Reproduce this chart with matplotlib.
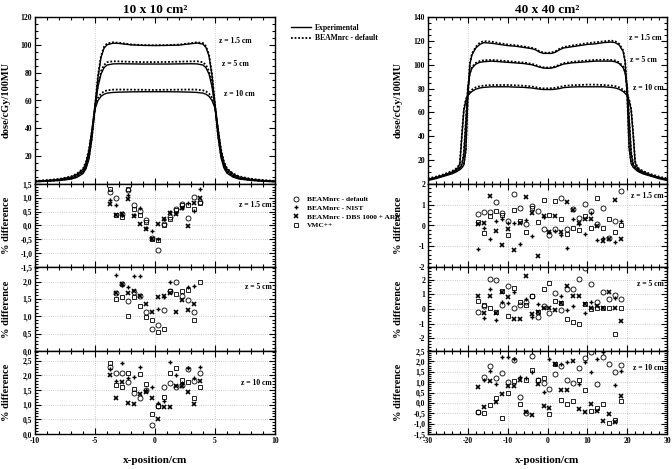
import numpy as np
import matplotlib
matplotlib.use("Agg")
import matplotlib.pyplot as plt
from matplotlib.lines import Line2D
from matplotlib.ticker import MultipleLocator, AutoMinorLocator, FuncFormatter

plt.rcParams['font.family'] = ['Liberation Serif', 'DejaVu Serif']
plt.rcParams['font.weight'] = 'bold'

nan = np.nan

# ---- dose profiles, 10 x 10 cm2 ----
x_10 = [-10, -9, -8, -7, -6.5, -6, -5.75, -5.5, -5.25, -5, -4.75, -4.5, -4.25, -4, -3.5, -3,
        -2, -1, 0, 1, 2, 3, 3.5, 4, 4.25, 4.5, 4.75, 5, 5.25, 5.5, 5.75, 6, 6.5, 7, 8, 9, 10]
exp_10_z15 = [1.6, 2.0, 2.5, 3.5, 4.8, 7.5, 11, 18, 33, 55, 77, 91, 97.5, 100, 101.2, 101,
              100, 99.6, 99.5, 99.6, 99.8, 100.8, 101.3, 100.5, 98, 92, 78, 56, 34, 19, 11.5, 7.8, 5, 3.6, 2.6, 2.0, 1.6]
mc_10_z15 = [1.8, 2.2, 2.7, 3.8, 5.2, 8.0, 12, 19, 34, 56, 78, 92, 98.5, 101, 101.8, 101.5,
             100.3, 99.8, 99.7, 99.8, 100.2, 101.2, 101.8, 101.3, 99, 93, 79, 57, 35, 20, 12, 8.3, 5.4, 3.9, 2.8, 2.2, 1.8]
exp_10_z5 = [1.8, 2.2, 2.9, 4.2, 5.8, 9, 13, 22, 37, 55, 70, 79, 83.5, 85.5, 86.3, 86.4,
             86.3, 86.2, 86.2, 86.2, 86.3, 86.4, 86.3, 85.5, 83.5, 79, 70, 56, 38, 22, 13, 9.2, 5.9, 4.3, 2.9, 2.2, 1.8]
mc_10_z5 = [2.0, 2.5, 3.2, 4.5, 6.2, 9.5, 14, 23, 38, 56, 71.5, 81, 85.5, 87.5, 88.2, 88.1,
            87.8, 87.6, 87.6, 87.7, 87.9, 88.1, 88.2, 87.5, 85.5, 81, 72, 57, 39, 23, 14, 9.7, 6.3, 4.6, 3.1, 2.5, 2.0]
exp_10_z10 = [2.0, 2.5, 3.3, 5, 7, 10.5, 15, 24, 38, 54, 60, 63, 64.5, 65.3, 65.8, 66,
              66.2, 66.3, 66.3, 66.3, 66.2, 66, 65.8, 65.3, 64.5, 63, 60, 54.5, 39, 24, 15, 10.7, 7.2, 5.1, 3.4, 2.5, 2.0]
mc_10_z10 = [2.2, 2.8, 3.6, 5.4, 7.5, 11, 16, 25, 39, 55, 62, 65, 66.5, 67.3, 67.8, 67.9,
             67.8, 67.7, 67.6, 67.7, 67.8, 67.9, 67.8, 67.3, 66.5, 65, 62, 55.5, 40, 25, 16, 11.2, 7.6, 5.5, 3.7, 2.8, 2.2]

# ---- dose profiles, 40 x 40 cm2 ----
x_40 = [-30, -28, -26, -24, -23, -22.5, -22, -21.5, -21, -20.5, -20, -19.5, -19, -18, -17, -16,
        -14, -12, -10, -8, -6, -4, -3, -2, -1, 0, 1, 2, 3, 4, 6, 8, 10, 12, 14, 16, 17, 18, 19,
        19.5, 20, 20.5, 21, 21.5, 22, 22.5, 23, 24, 26, 28, 30]
exp_40_z15 = [3.0, 4.5, 6.5, 8.5, 10, 11, 12, 13.5, 16, 28, 72, 100, 108, 114, 117, 118.5,
              118, 117, 116, 115.5, 114.5, 113.5, 112.5, 110.5, 109.5, 109.5, 109.5, 110.5, 112.5, 114,
              115, 116, 117, 117.5, 118.5, 119, 118.5, 116.5, 111, 102, 74, 30, 17, 14, 12.5, 11, 10, 8.5, 6.5, 4.5, 3.0]
mc_40_z15 = [3.6, 5.2, 7.2, 9.3, 10.8, 11.8, 12.8, 14.3, 17, 29, 73, 101, 109, 115, 118.5, 119.8,
             119.3, 118, 117, 116.3, 115.3, 114.2, 113.2, 111.3, 110.2, 110, 110.2, 111.3, 113.3, 114.8,
             116, 117, 118, 118.8, 119.6, 120.2, 119.6, 117.5, 112, 103, 75, 31, 18, 15, 13.3, 11.8, 10.8, 9.3, 7.2, 5.2, 3.6]
exp_40_z5 = [3.5, 5, 7, 9.5, 11, 12, 13.5, 16, 25, 52, 80, 92, 97, 100.5, 102, 102.5,
             103, 102.5, 102, 101.5, 101, 100, 99, 98, 97.2, 97, 97.2, 98, 99.3, 100.5,
             101.5, 102, 102.5, 103, 103, 103, 102.5, 101, 97.5, 93, 81, 54, 26, 16.5, 14, 12, 11, 9.5, 7, 5, 3.5]
mc_40_z5 = [4.0, 5.6, 7.6, 10.2, 11.8, 12.8, 14.3, 17, 26, 53, 81, 93, 98, 101.5, 103, 103.8,
            104, 103.5, 103, 102.3, 101.8, 100.8, 99.8, 98.6, 97.8, 97.6, 97.8, 98.6, 100, 101.3,
            102.3, 103, 103.5, 104, 104.2, 104, 103.5, 102, 98.5, 94, 82, 55, 27, 17.3, 14.8, 12.8, 11.8, 10.2, 7.6, 5.6, 4.0]
exp_40_z10 = [4, 5.5, 7.5, 10, 12, 13.5, 17, 40, 62, 70, 74, 76, 77.5, 79.5, 80.5, 81,
              81.5, 81.5, 81.5, 81.2, 81, 80.5, 80, 79.5, 79.2, 79.2, 79.2, 79.5, 80, 80.8,
              81.3, 81.5, 81.5, 81.5, 81.5, 81, 80.5, 79.5, 77.5, 76, 74, 70, 62, 42, 18, 14, 12, 10, 7.5, 5.5, 4]
mc_40_z10 = [4.6, 6.2, 8.2, 10.8, 12.8, 14.3, 18, 41, 63, 71, 75, 77.3, 79, 81, 82, 82.5,
             83, 83, 83, 82.7, 82.4, 81.8, 81.2, 80.5, 80.2, 80.2, 80.3, 80.7, 81.3, 82.2,
             82.8, 83, 83.3, 83.3, 83, 82.5, 82, 81, 79, 77.3, 75, 71, 63, 43, 19, 14.8, 12.8, 10.8, 8.2, 6.2, 4.6]

# ---- % differences, 10 x 10 cm2 ----
pos_10 = [-3.75, -3.25, -2.75, -2.25, -1.75, -1.25, -0.75, -0.25,
          0.25, 0.75, 1.25, 1.75, 2.25, 2.75, 3.25, 3.75]
d10_z15_default = [1.2, 0.98, 0.41, 1.27, 0.73, 0.54, 0.19, -0.45, -0.9, 0.04, 0.31, 0.61, 0.76, 0.27, 1.04, 0.86]
d10_z15_nist = [0.93, 0.75, 0.38, 1.12, 0.38, 0.62, -0.1, -0.2, -0.47, 0.24, 0.48, 0.46, 0.64, 0.8, 0.53, 1.31]
d10_z15_dbs = [0.79, 0.37, 0.41, 0.94, 0.34, 0.06, -0.14, -0.47, 0.05, 0.22, 0.46, 0.40, 0.62, -0.02, 0.82, 1.0]
d10_z15_vmc = [1.31, 0.37, 0.30, 1.33, 0.61, 0.39, 0.12, -0.5, -0.52, 0.01, 0.24, 0.56, 0.74, 0.73, 0.58, 0.82]

d10_z5_default = [nan, 1.67, 1.92, 1.44, 1.70, 1.58, 1.12, 0.63, 0.76, 1.19, 1.72, 2.0, 1.58, 1.46, 1.12, nan]
d10_z5_nist = [nan, 2.2, 1.9, 1.85, 2.15, 2.17, nan, nan, 1.21, 1.55, 2.0, nan, nan, 1.85, 1.87, nan]
d10_z5_dbs = [nan, 1.67, 1.94, 1.67, 1.72, 1.58, 1.34, 1.12, 1.55, 1.58, 1.67, 1.12, 1.46, 1.19, 1.34, nan]
d10_z5_vmc = [nan, 1.5, 1.56, 1.02, 1.56, 1.31, 0.98, 0.88, 0.56, 0.62, 1.72, 1.63, 1.72, 1.77, 0.9, 1.98]

d10_z10_default = [2.3, 2.07, 2.07, 1.78, 1.41, 1.24, 1.5, 0.31, 0.95, 1.59, 1.75, 1.59, 1.67, 2.2, 1.81, 2.09]
d10_z10_nist = [2.22, 1.82, 2.41, 1.9, 1.95, 2.3, 1.5, 1.59, 1.07, 1.14, 2.47, 2.01, 1.75, 2.24, 1.9, 2.3]
d10_z10_dbs = [2.01, 1.22, 1.78, 1.07, 1.03, 1.35, 1.44, 1.22, 0.5, 0.93, 0.93, 1.64, 1.64, 1.44, 1.02, 1.82]
d10_z10_vmc = [2.41, 1.67, 1.61, 2.07, 1.52, 2.05, 1.69, 0.68, 0.95, 1.27, 2.07, 2.24, 1.84, 1.76, 1.22, 1.59]

# ---- % differences, 40 x 40 cm2 ----
pos_40 = [-17.5, -16, -14.5, -13, -11.5, -10, -8.5, -7, -5.5, -4, -2.5, -1, 0.5,
          2, 3.5, 5, 6.5, 8, 9.5, 11, 12.5, 14, 15.5, 17, 18.5]
d40_z15_default = [0.56, 0.64, 0.64, 1.11, 0.6, 0.21, 1.53, 0.85, 0.06, 0.96, 0.69, -0.18, -0.47,
                   -0.15, 1.32, -0.15, 0.8, 0.37, 1.05, 0.69, 0.09, 0.85, -0.62, 0.21, 1.64]
d40_z15_nist = [-1.13, -0.1, -0.66, 0.24, 0.32, 0.1, 0.13, -0.89, 0.25, -0.53, nan, 0.4, -0.31,
                -0.26, -0.47, -1.1, 0.32, 0.05, -0.42, 0.6, -0.7, -0.6, nan, -0.78, 0.24]
d40_z15_dbs = [0.05, 0.1, 1.4, -0.26, -0.94, -0.15, -1.18, 0.1, 1.37, 0.61, -1.48, 0.48, -0.31,
               0.45, -0.31, 1.11, 0.77, 0.1, 0.32, 0.29, -0.02, -0.74, -0.66, 1.24, -0.63]
d40_z15_vmc = [0.17, -0.34, 0.45, 0.69, 0.53, -0.47, 0.77, 0.21, -0.31, 0.85, 0.17, 1.21, 0.53,
               1.16, 0.32, -0.39, -0.1, -0.23, 0.45, -0.1, 1.32, -0.1, 0.29, -0.31, 0.0]

d40_z5_default = [-0.17, 0.2, 2.05, 1.95, 0.3, 1.54, 0.1, 0.29, 0.45, 0.9, -0.56, 0.17, -0.29,
                  1.09, -0.1, 1.36, 1.36, 2.05, 2.75, 1.7, 0.47, 1.13, 0.67, 0.97, 0.67]
d40_z5_nist = [nan, -0.63, 1.38, -0.74, 0.47, 0.4, 1.15, nan, 0.7, -0.51, 0.33, nan, nan,
               nan, 0.9, -0.06, 0.22, nan, -0.29, 0.47, nan, nan, nan, 0.74, nan]
d40_z5_dbs = [0.86, -0.24, 0.86, -0.29, 1.15, 0.79, -0.7, -0.67, 2.27, -0.33, -0.22, 0.06, 0.1,
              -0.1, 0.4, 1.54, 0.9, 0.86, 0.35, 0.06, 0.17, 0.1, 1.13, 0.1, -0.79]
d40_z5_vmc = [0.51, 0.29, 0.06, -0.22, 1.2, -0.47, 1.43, 0.47, 0.29, 0.9, -0.22, 1.38, 1.77,
              0.56, 0.4, -0.67, -0.86, -1.02, 0.35, 0.0, 0.1, 0.1, 0.06, -1.7, 0.1]

d40_z10_default = [-0.45, 1.24, 1.76, 1.21, 1.45, 1.0, 2.08, 0.27, -0.5, 2.24, 1.1, 0.95, 0.68,
                   1.4, 1.76, 1.08, 0.95, 1.69, 2.18, 2.45, 0.92, 2.21, 1.89, 1.48, 1.84]
d40_z10_nist = [nan, 1.11, 1.56, 0.92, 2.21, 2.21, 2.13, 1.27, 1.2, 1.48, nan, 0.52, 2.1,
                1.89, 1.85, 1.97, nan, 0.92, 1.97, 1.48, 2.13, 2.45, nan, 0.84, 1.56]
d40_z10_dbs = [0.76, -0.18, 1.05, 0.06, 0.44, 0.79, 0.79, 1.08, -0.42, -0.58, 0.89, -0.13, -0.26,
               1.89, 0.6, 0.6, 2.02, -0.29, -0.42, -0.05, -0.37, -0.85, -0.53, -0.9, 0.35]
d40_z10_vmc = [-0.45, -0.5, -0.08, 0.24, -0.73, 0.47, 1.05, -0.05, 1.1, 1.6, 1.11, 1.19, -0.56,
               1.89, 0.15, -0.05, 0.08, 1.11, 0.6, -0.37, -0.24, -0.05, -0.97, -0.82, 0.11]

FIG_W, FIG_H = 672, 469
TICK_FS = 5.5
LABEL_FS = 7.5


def box(x0, y0, x1, y1):
    # pixel box (top-left origin) -> figure fraction rect
    return [x0 / FIG_W, 1 - y1 / FIG_H, (x1 - x0) / FIG_W, (y1 - y0) / FIG_H]


def comma_fmt(decimals):
    def f(v, pos):
        s = ('%.' + str(decimals) + 'f') % v
        if s.startswith('-') and float(s) == 0:
            s = s[1:]
        return s.replace('.', ',')
    return FuncFormatter(f)


def style_axes(ax, xmajor, ymajor, yfmt, show_x=False):
    ax.xaxis.set_major_locator(MultipleLocator(xmajor))
    ax.xaxis.set_minor_locator(AutoMinorLocator(5))
    ax.yaxis.set_major_locator(MultipleLocator(ymajor))
    ax.yaxis.set_minor_locator(AutoMinorLocator(5 if ymajor != 20 else 4))
    ax.yaxis.set_major_formatter(yfmt)
    ax.tick_params(which='both', direction='in', top=True, right=True, labelsize=TICK_FS, width=0.8, pad=2)
    ax.tick_params(which='major', length=4)
    ax.tick_params(which='minor', length=2)
    if show_x:
        ax.xaxis.set_major_formatter(FuncFormatter(lambda v, p: '%d' % v))
    else:
        ax.tick_params(labelbottom=False)
    for sp in ax.spines.values():
        sp.set_linewidth(1.0)


def profile_axes(fig, rect, xs, curves, xlim, ylim, edges, title, zlabels, ylab_x):
    ax = fig.add_axes(rect)
    for exp, mc in curves:
        ax.plot(xs, exp, color='black', lw=1.0, ls='-')
        ax.plot(xs, mc, color='black', lw=1.3, ls=(0, (1, 1)))
    for e in edges:
        ax.axvline(e, color='0.75', lw=0.6, ls=':', zorder=0)
    ax.set_xlim(*xlim)
    ax.set_ylim(*ylim)
    style_axes(ax, 5 if xlim[1] == 10 else 10, 20,
               FuncFormatter(lambda v, p: '' if v == 0 else '%d' % v))
    ax.text(0.5, 1.008, title, transform=ax.transAxes, fontsize=9.5, fontweight='bold',
            ha='center', va='bottom')
    ax.set_ylabel('dose/cGy/100MU', fontsize=LABEL_FS, fontweight='bold')
    ax.yaxis.set_label_coords(ylab_x, 0.5)
    for tx, ty, t in zlabels:
        ax.text(tx, ty, t, fontsize=5.5, fontweight='bold', ha='center', va='center')
    return ax


def diff_axes(fig, rect, xs, series, xlim, ylim, ymajor, decimals, zlab, zlab_y, ylab_x, show_x):
    ax = fig.add_axes(rect)
    d_def, d_nist, d_dbs, d_vmc = series
    ax.plot(xs, d_def, ls='none', marker='o', ms=3.6, mfc='none', mec='black', mew=0.6)
    ax.plot(xs, d_nist, ls='none', marker='+', ms=3.4, mec='black', mew=1.0)
    ax.plot(xs, d_dbs, ls='none', marker='x', ms=3.4, mec='black', mew=1.2)
    ax.plot(xs, d_vmc, ls='none', marker='s', ms=3.4, mfc='none', mec='black', mew=0.6)
    ax.set_xlim(*xlim)
    ax.set_ylim(*ylim)
    ax.grid(True, which='major', ls=':', color='0.75', lw=0.6)
    ax.set_axisbelow(True)
    style_axes(ax, 5 if xlim[1] == 10 else 10, ymajor, comma_fmt(decimals), show_x=show_x)
    ax.set_ylabel('% difference', fontsize=LABEL_FS, fontweight='bold')
    ax.yaxis.set_label_coords(ylab_x, 0.5)
    ax.text(0.985, zlab_y, zlab, transform=ax.transAxes, fontsize=5.5, fontweight='bold',
            ha='right', va='center')
    if show_x:
        ax.set_xlabel('x-position/cm', fontsize=LABEL_FS + 0.5, fontweight='bold', labelpad=8)
    return ax


fig = plt.figure(figsize=(FIG_W / 100, FIG_H / 100), dpi=100)

LX0, LX1 = 35, 275
RX0, RX1 = 428, 667
rows = [(17, 184), (184, 267), (267, 351), (351, 434)]
LYL, RYL = -0.1, -0.105

profile_axes(fig, box(LX0, rows[0][0], LX1, rows[0][1]), x_10,
             [(exp_10_z15, mc_10_z15), (exp_10_z5, mc_10_z5), (exp_10_z10, mc_10_z10)],
             (-10, 10), (0, 120), [-5, 5], '10 x 10 cm²',
             [(6.7, 102.5, 'z = 1.5 cm'), (6.7, 86, 'z = 5 cm'), (7.0, 64.5, 'z = 10 cm')], LYL)
profile_axes(fig, box(RX0, rows[0][0], RX1, rows[0][1]), x_40,
             [(exp_40_z15, mc_40_z15), (exp_40_z5, mc_40_z5), (exp_40_z10, mc_40_z10)],
             (-30, 30), (0, 140), [-20, 20], '40 x 40 cm²',
             [(24.5, 122, 'z = 1.5 cm'), (24.0, 104, 'z = 5 cm'), (25.3, 80.5, 'z = 10 cm')], RYL)

diff_axes(fig, box(LX0, rows[1][0], LX1, rows[1][1]), pos_10,
          [d10_z15_default, d10_z15_nist, d10_z15_dbs, d10_z15_vmc],
          (-10, 10), (-1.5, 1.5), 0.5, 1, 'z = 1.5 cm', 0.75, LYL, False)
diff_axes(fig, box(LX0, rows[2][0], LX1, rows[2][1]), pos_10,
          [d10_z5_default, d10_z5_nist, d10_z5_dbs, d10_z5_vmc],
          (-10, 10), (0, 2.42), 0.5, 1, 'z = 5 cm', 0.76, LYL, False)
diff_axes(fig, box(LX0, rows[3][0], LX1, rows[3][1]), pos_10,
          [d10_z10_default, d10_z10_nist, d10_z10_dbs, d10_z10_vmc],
          (-10, 10), (0, 2.83), 0.5, 1, 'z = 10 cm', 0.62, LYL, True)

diff_axes(fig, box(RX0, rows[1][0], RX1, rows[1][1]), pos_40,
          [d40_z15_default, d40_z15_nist, d40_z15_dbs, d40_z15_vmc],
          (-30, 30), (-2, 2), 1, 0, 'z = 1.5 cm', 0.86, RYL, False)
diff_axes(fig, box(RX0, rows[2][0], RX1, rows[2][1]), pos_40,
          [d40_z5_default, d40_z5_nist, d40_z5_dbs, d40_z5_vmc],
          (-30, 30), (-2.85, 2.85), 1, 0, 'z = 5 cm', 0.8, RYL, False)
diff_axes(fig, box(RX0, rows[3][0], RX1, rows[3][1]), pos_40,
          [d40_z10_default, d40_z10_nist, d40_z10_dbs, d40_z10_vmc],
          (-30, 30), (-1.5, 2.5), 0.5, 1, 'z = 10 cm', 0.8, RYL, True)

# legends between the two columns
line_handles = [Line2D([], [], color='black', lw=1.0),
                Line2D([], [], color='black', lw=1.3, ls=(0, (1, 1)))]
fig.legend(line_handles, ['Experimental', 'BEAMnrc - default'],
           loc='upper left', bbox_to_anchor=(291 / FIG_W, 1 - 24 / FIG_H), frameon=False,
           prop={'size': 5.5, 'weight': 'bold'}, handlelength=2.6, handletextpad=0.5,
           labelspacing=0.3, borderaxespad=0, borderpad=0)

marker_handles = [Line2D([], [], ls='none', marker='o', ms=3.6, mfc='none', mec='black', mew=0.6),
                  Line2D([], [], ls='none', marker='+', ms=3.4, mec='black', mew=1.0),
                  Line2D([], [], ls='none', marker='x', ms=3.4, mec='black', mew=1.2),
                  Line2D([], [], ls='none', marker='s', ms=3.4, mfc='none', mec='black', mew=0.6)]
fig.legend(marker_handles, ['BEAMnrc - default', 'BEAMnrc - NIST', 'BEAMnrc - DBS 1000 + ARR', 'VMC++'],
           loc='upper left', bbox_to_anchor=(292 / FIG_W, 1 - 196 / FIG_H), frameon=False,
           prop={'size': 5.3, 'weight': 'bold'}, handlelength=1.0, handletextpad=1.0,
           labelspacing=0.35, borderaxespad=0, borderpad=0)

fig.savefig('out.png', dpi=100)
